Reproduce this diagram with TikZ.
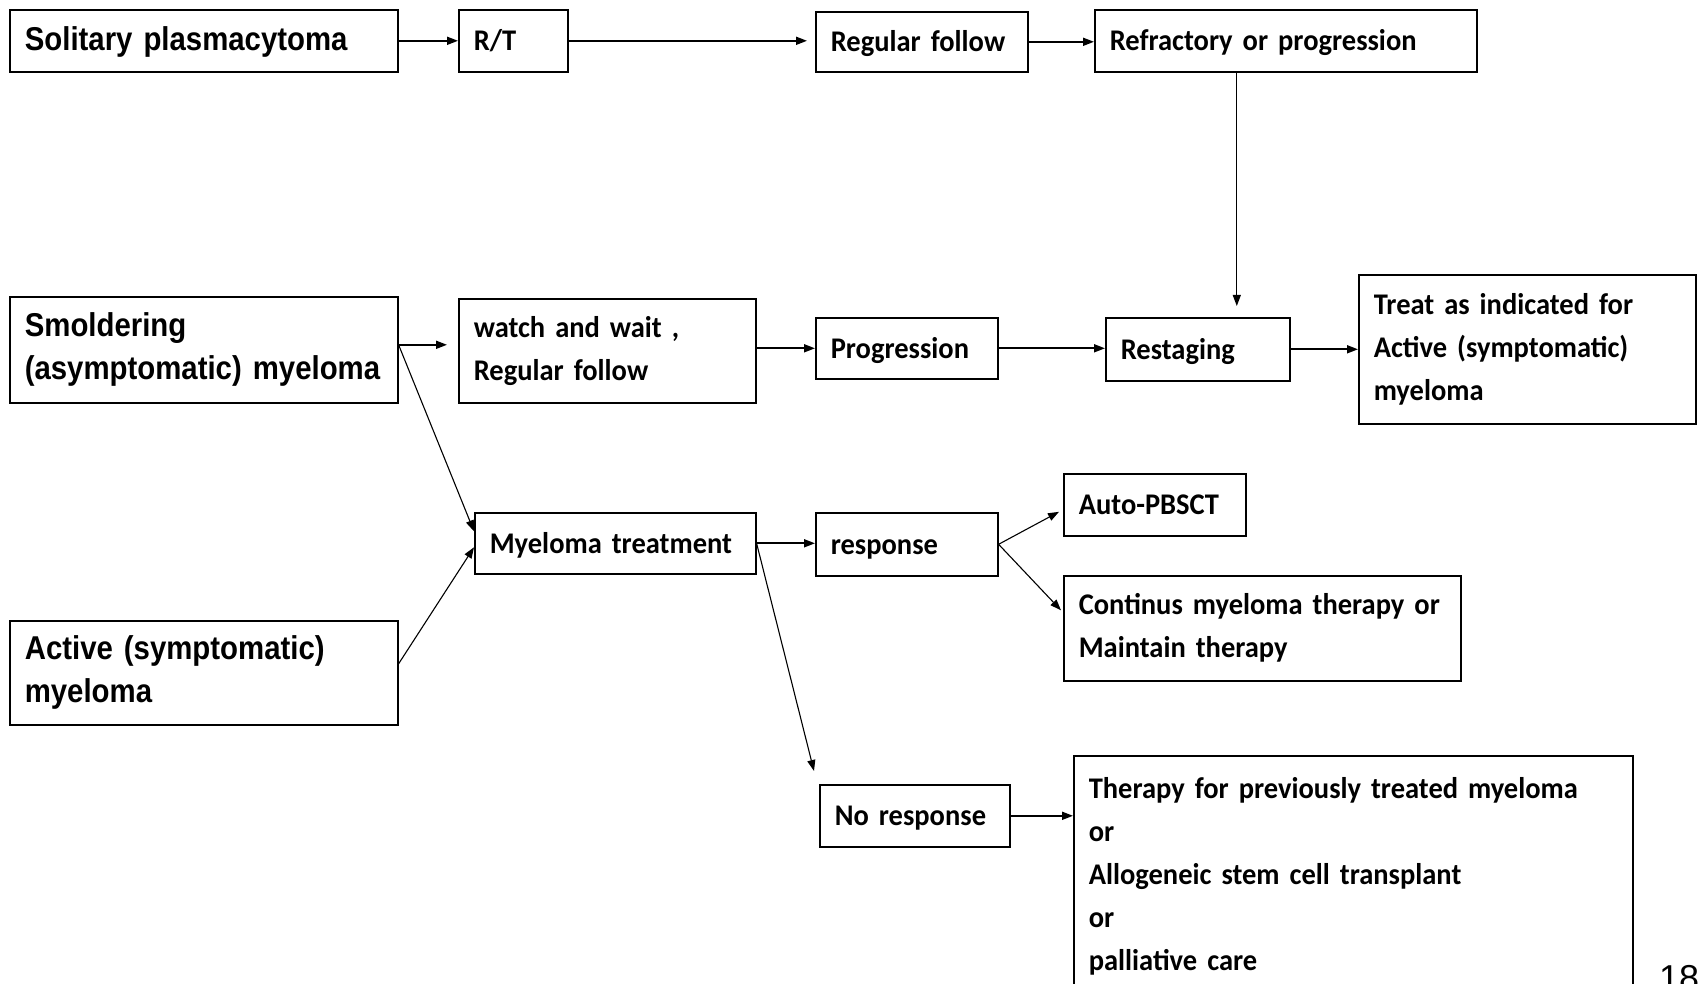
\documentclass[tikz,border=0pt]{standalone}
\usepackage{fontspec}
\setmainfont[FakeStretch=0.95, WordSpace=0.65]{Carlito}
\newfontfamily\narrowarial[FakeStretch=0.89, WordSpace=0.8]{Liberation Sans}
\newfontfamily\slidefont{Liberation Sans}
\usetikzlibrary{arrows.meta, calc}
\tikzset{
  cbox/.style={draw, line width=1.6pt, anchor=north west, align=left,
               inner xsep=15pt, inner ysep=0pt,
               font=\fontsize{30}{43}\selectfont\bfseries},
  abox/.style={cbox, font=\fontsize{33}{43}\narrowarial\bfseries},
  oneline/.style={text height=24pt, text depth=4pt},
  arr/.style={-{Triangle[length=11pt,width=8pt]}, line width=1.8pt},
  tarr/.style={arr, line width=1.1pt},
}
\begin{document}
\begin{tikzpicture}[x=1pt, y=-1pt]
  \useasboundingbox (0,0) rectangle (1698,984);
  \clip (0,0) rectangle (1698,984);

  % left column
  \node[abox, oneline, text width=358pt, minimum height=62pt] (solitary) at (9,9) {Solitary plasmacytoma};
  \node[abox, text width=358pt, minimum height=106pt] (smolder) at (9,296) {Smoldering\\(asymptomatic) myeloma};
  \node[abox, text width=358pt, minimum height=104pt] (active) at (9,620) {Active (symptomatic)\\myeloma};

  % top row
  \node[cbox, oneline, text width=79pt, minimum height=62pt] (rt) at (458,9) {R/T};
  \node[cbox, oneline, text width=182pt, minimum height=60pt] (regfollow) at (815,11) {Regular follow};
  \node[cbox, oneline, text width=352pt, minimum height=62pt] (refract) at (1094,9) {Refractory or progression};

  % middle row
  \node[cbox, text width=267pt, minimum height=104pt] (watch) at (458,298) {watch and wait ,\\Regular follow};
  \node[cbox, oneline, text width=152pt, minimum height=61pt] (progr) at (815,317) {Progression};
  \node[cbox, oneline, text width=154pt, minimum height=63pt] (restage) at (1105,317) {Restaging};
  \node[cbox, text width=307pt, minimum height=149pt] (treat) at (1358,274) {Treat as indicated for\\Active (symptomatic)\\myeloma};

  % treatment branch
  \node[cbox, oneline, text width=251pt, minimum height=61pt] (mtreat) at (474,512) {Myeloma treatment};
  \node[cbox, oneline, text width=152pt, minimum height=63pt] (resp) at (815,512) {response};
  \node[cbox, oneline, text width=152pt, minimum height=62pt] (auto) at (1063,473) {Auto-PBSCT};
  \node[cbox, text width=367pt, minimum height=105pt] (contin) at (1063,575) {Continus myeloma therapy or\\Maintain therapy};
  \node[cbox, oneline, text width=160pt, minimum height=62pt] (noresp) at (819,784) {No response};
  \node[cbox, inner ysep=22pt, text width=529pt] (therapy) at (1073,755) {Therapy for previously treated myeloma\\or\\Allogeneic stem cell transplant\\or\\palliative care};

  \node[font=\fontsize{36}{36}\slidefont, anchor=base west, inner sep=0pt] (pagenum) at (1659,990) {18};

  % connectors
  \draw[arr] (solitary) -- (rt);
  \draw[arr, shorten >=8pt] (rt) -- (regfollow.west |- rt);
  \draw[arr] (regfollow) -- (refract.west |- regfollow);
  \draw[tarr, shorten >=11pt] ([xshift=-49pt]refract.south) -- ([xshift=-49pt]refract.south |- restage.north);
  \draw[arr, shorten >=11pt] ([yshift=5pt]smolder.east) -- ([yshift=5pt]smolder.east -| watch.west);
  \draw[arr] (progr.west -| watch.east) -- (progr.west);
  \draw[arr] (progr.east) -- (restage.west |- progr.east);
  \draw[arr] (restage.east) -- (treat.west |- restage.east);
  \draw[tarr] ([yshift=5pt]smolder.east) -- ([yshift=12pt]mtreat.west);
  \draw[tarr] ([yshift=9pt]active.east) -- ([yshift=-4pt]mtreat.west);
  \draw[arr] (mtreat.east) -- (resp.west |- mtreat.east);
  \draw[tarr] (mtreat.east) -- ([xshift=-5pt, yshift=13pt]noresp.north west);
  \draw[tarr] (resp.east) -- ([xshift=-4pt, yshift=-7pt]auto.west);
  \draw[tarr] (resp.east) -- ([xshift=-2pt, yshift=18pt]contin.west);
  \draw[arr] (noresp.east) -- (therapy.west |- noresp.east);
\end{tikzpicture}
\end{document}
